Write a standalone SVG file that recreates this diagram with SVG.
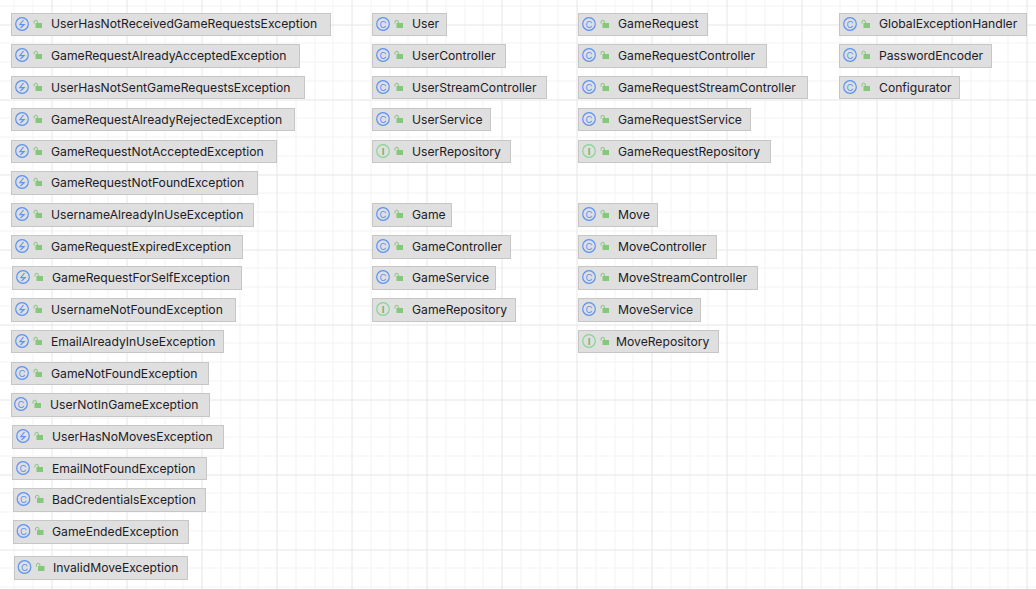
<svg xmlns="http://www.w3.org/2000/svg" width="1036" height="589" viewBox="0 0 1036 589">
<style>
text{font-family:Inter,"Liberation Sans",sans-serif;}
.l{font-size:12.16px;fill:#1c2026;dominant-baseline:central;transform:translateY(-0.6px)}
.b{fill:#dfdfdf;stroke:#c6c6c6;stroke-width:1}
.i{fill:none;stroke-width:1.2}
.ci{stroke:#5a92f5}.cg{stroke:#86d694}
.g{font-size:9.5px;text-anchor:middle;dominant-baseline:central}
.gc{fill:#5a92f5}.gi{fill:#62b873;font-weight:700}
.bolt{fill:none;stroke:#5a92f5;stroke-width:1.1}
.lk{fill:#85c77b}.sh{fill:none;stroke:#85c77b;stroke-width:1}
.m{stroke:#f3f3f3;stroke-width:1;fill:none}.M{stroke:#e6e6e6;stroke-width:1;fill:none}
</style>
<defs>
<g id="lock"><rect x="2" y="2.500" width="6.500" height="5" class="lk"/><path d="M0.500 3V1.500a1.700 1.700 0 0 1 3.400 0V3" class="sh"/></g>
<g id="C"><circle cx="0" cy="0" r="6.300" class="i ci"/><text class="g gc">C</text><use href="#lock" x="11.500" y="-3.500"/></g>
<g id="I"><circle cx="0" cy="0" r="6.300" class="i cg"/><text class="g gi">I</text><use href="#lock" x="11.500" y="-3.500"/></g>
<g id="E"><circle cx="0" cy="0" r="6.300" class="i ci"/><path d="M1.500-4L-2.200 0.600H2.200L-1.500 4" class="bolt"/><use href="#lock" x="11.500" y="-3.500"/></g>
</defs>
<rect width="1036" height="589" fill="#fff"/>
<g id="grid">
<path class="m" d="M14 0V589M33 0V589M71 0V589M90 0V589M108 0V589M146 0V589M165 0V589M183 0V589M221 0V589M240 0V589M258 0V589M296 0V589M315 0V589M333 0V589M371 0V589M390 0V589M408 0V589M446 0V589M465 0V589M483 0V589M521 0V589M540 0V589M558 0V589M596 0V589M615 0V589M633 0V589M671 0V589M690 0V589M708 0V589M746 0V589M765 0V589M783 0V589M821 0V589M840 0V589M858 0V589M896 0V589M915 0V589M933 0V589M971 0V589M990 0V589M1008 0V589"/>
<path class="m" d="M0 6H1036M0 43H1036M0 62H1036M0 81H1036M0 118H1036M0 137H1036M0 156H1036M0 193H1036M0 212H1036M0 231H1036M0 268H1036M0 287H1036M0 306H1036M0 343H1036M0 362H1036M0 381H1036M0 418H1036M0 437H1036M0 456H1036M0 493H1036M0 512H1036M0 531H1036M0 568H1036M0 587H1036"/>
<path class="M" d="M52 0V589M127 0V589M202 0V589M277 0V589M352 0V589M427 0V589M502 0V589M577 0V589M652 0V589M727 0V589M802 0V589M877 0V589M952 0V589M1027 0V589"/>
<path class="M" d="M0 25H1036M0 100H1036M0 175H1036M0 250H1036M0 325H1036M0 400H1036M0 475H1036M0 550H1036"/>
</g>
<g id="connectors"/>
<g id="n1"><rect class="b" x="11.500" y="13.500" width="319" height="22"/><use href="#E" x="22" y="24"/><text class="l" x="51" y="24.500">UserHasNotReceivedGameRequestsException</text></g>
<g id="n2"><rect class="b" x="11.500" y="44.500" width="288" height="23"/><use href="#E" x="22" y="55"/><text class="l" x="51" y="56">GameRequestAlreadyAcceptedException</text></g>
<g id="n3"><rect class="b" x="11.500" y="76.500" width="293" height="22"/><use href="#E" x="22" y="87"/><text class="l" x="51" y="88">UserHasNotSentGameRequestsException</text></g>
<g id="n4"><rect class="b" x="11.500" y="108.500" width="283" height="22"/><use href="#E" x="22" y="119"/><text class="l" x="51" y="120">GameRequestAlreadyRejectedException</text></g>
<g id="n5"><rect class="b" x="11.500" y="140.500" width="265" height="22"/><use href="#E" x="22" y="151"/><text class="l" x="51" y="152">GameRequestNotAcceptedException</text></g>
<g id="n6"><rect class="b" x="11.500" y="171.500" width="246" height="23"/><use href="#E" x="22" y="182"/><text class="l" x="51" y="183">GameRequestNotFoundException</text></g>
<g id="n7"><rect class="b" x="11.500" y="203.500" width="242" height="23"/><use href="#E" x="22" y="214"/><text class="l" x="51" y="215">UsernameAlreadyInUseException</text></g>
<g id="n8"><rect class="b" x="11.500" y="235.500" width="231" height="23"/><use href="#E" x="22" y="246"/><text class="l" x="51" y="247">GameRequestExpiredException</text></g>
<g id="n9"><rect class="b" x="12.500" y="266.500" width="229" height="23"/><use href="#E" x="23" y="277"/><text class="l" x="52" y="278">GameRequestForSelfException</text></g>
<g id="n10"><rect class="b" x="11.500" y="298.500" width="224" height="23"/><use href="#E" x="22" y="309"/><text class="l" x="51" y="310">UsernameNotFoundException</text></g>
<g id="n11"><rect class="b" x="11.500" y="330.500" width="212" height="22"/><use href="#E" x="22" y="341"/><text class="l" x="51" y="342">EmailAlreadyInUseException</text></g>
<g id="n12"><rect class="b" x="11.500" y="362.500" width="197" height="22"/><use href="#C" x="22" y="373"/><text class="l" x="51" y="374">GameNotFoundException</text></g>
<g id="n13"><rect class="b" x="11.500" y="393.500" width="198" height="23"/><use href="#C" x="21" y="404"/><text class="l" x="50" y="405">UserNotInGameException</text></g>
<g id="n14"><rect class="b" x="12.500" y="425.500" width="211" height="23"/><use href="#E" x="23" y="436"/><text class="l" x="52" y="437">UserHasNoMovesException</text></g>
<g id="n15"><rect class="b" x="12.500" y="457.500" width="194" height="22"/><use href="#C" x="23" y="468"/><text class="l" x="52" y="469">EmailNotFoundException</text></g>
<g id="n16"><rect class="b" x="13.500" y="488.500" width="192" height="23"/><use href="#C" x="23.500" y="499"/><text class="l" x="52" y="500">BadCredentialsException</text></g>
<g id="n17"><rect class="b" x="13.500" y="520.500" width="175" height="23"/><use href="#C" x="23.500" y="531"/><text class="l" x="52" y="532">GameEndedException</text></g>
<g id="n18"><rect class="b" x="14.500" y="556.500" width="173" height="23"/><use href="#C" x="24.500" y="567"/><text class="l" x="53" y="568">InvalidMoveException</text></g>
<g id="n19"><rect class="b" x="372.500" y="13.500" width="74" height="22"/><use href="#C" x="383" y="24"/><text class="l" x="412" y="24.500">User</text></g>
<g id="n20"><rect class="b" x="372.500" y="44.500" width="133" height="23"/><use href="#C" x="383" y="55"/><text class="l" x="412" y="56">UserController</text></g>
<g id="n21"><rect class="b" x="372.500" y="76.500" width="174" height="22"/><use href="#C" x="383" y="87"/><text class="l" x="412" y="88">UserStreamController</text></g>
<g id="n22"><rect class="b" x="372.500" y="108.500" width="118" height="22"/><use href="#C" x="383" y="119"/><text class="l" x="412" y="120">UserService</text></g>
<g id="n23"><rect class="b" x="372.500" y="140.500" width="138" height="22"/><use href="#I" x="383" y="151"/><text class="l" x="412" y="152">UserRepository</text></g>
<g id="n24"><rect class="b" x="372.500" y="203.500" width="79" height="23"/><use href="#C" x="383" y="214"/><text class="l" x="412" y="215">Game</text></g>
<g id="n25"><rect class="b" x="372.500" y="235.500" width="138" height="23"/><use href="#C" x="383" y="246"/><text class="l" x="412" y="247">GameController</text></g>
<g id="n26"><rect class="b" x="372.500" y="266.500" width="123" height="23"/><use href="#C" x="383" y="277"/><text class="l" x="412" y="278">GameService</text></g>
<g id="n27"><rect class="b" x="372.500" y="298.500" width="143" height="23"/><use href="#I" x="383" y="309"/><text class="l" x="412" y="310">GameRepository</text></g>
<g id="n28"><rect class="b" x="578.500" y="13.500" width="129" height="22"/><use href="#C" x="589" y="24"/><text class="l" x="618" y="24.500">GameRequest</text></g>
<g id="n29"><rect class="b" x="578.500" y="44.500" width="188" height="23"/><use href="#C" x="589" y="55"/><text class="l" x="618" y="56">GameRequestController</text></g>
<g id="n30"><rect class="b" x="578.500" y="76.500" width="229" height="22"/><use href="#C" x="589" y="87"/><text class="l" x="618" y="88">GameRequestStreamController</text></g>
<g id="n31"><rect class="b" x="578.500" y="108.500" width="172" height="22"/><use href="#C" x="589" y="119"/><text class="l" x="618" y="120">GameRequestService</text></g>
<g id="n32"><rect class="b" x="578.500" y="140.500" width="192" height="22"/><use href="#I" x="589" y="151"/><text class="l" x="618" y="152">GameRequestRepository</text></g>
<g id="n33"><rect class="b" x="578.500" y="203.500" width="79" height="23"/><use href="#C" x="589" y="214"/><text class="l" x="618" y="215">Move</text></g>
<g id="n34"><rect class="b" x="578.500" y="235.500" width="138" height="23"/><use href="#C" x="589" y="246"/><text class="l" x="618" y="247">MoveController</text></g>
<g id="n35"><rect class="b" x="578.500" y="266.500" width="179" height="23"/><use href="#C" x="589" y="277"/><text class="l" x="618" y="278">MoveStreamController</text></g>
<g id="n36"><rect class="b" x="578.500" y="298.500" width="122" height="23"/><use href="#C" x="589" y="309"/><text class="l" x="618" y="310">MoveService</text></g>
<g id="n37"><rect class="b" x="578.500" y="330.500" width="140" height="22"/><use href="#I" x="589" y="341"/><text class="l" x="616" y="342">MoveRepository</text></g>
<g id="n38"><rect class="b" x="839.500" y="13.500" width="187" height="22"/><use href="#C" x="850" y="24"/><text class="l" x="879" y="24.500">GlobalExceptionHandler</text></g>
<g id="n39"><rect class="b" x="839.500" y="44.500" width="152" height="23"/><use href="#C" x="850" y="55"/><text class="l" x="879" y="56">PasswordEncoder</text></g>
<g id="n40"><rect class="b" x="839.500" y="76.500" width="120" height="22"/><use href="#C" x="850" y="87"/><text class="l" x="879" y="88">Configurator</text></g>
</svg>
